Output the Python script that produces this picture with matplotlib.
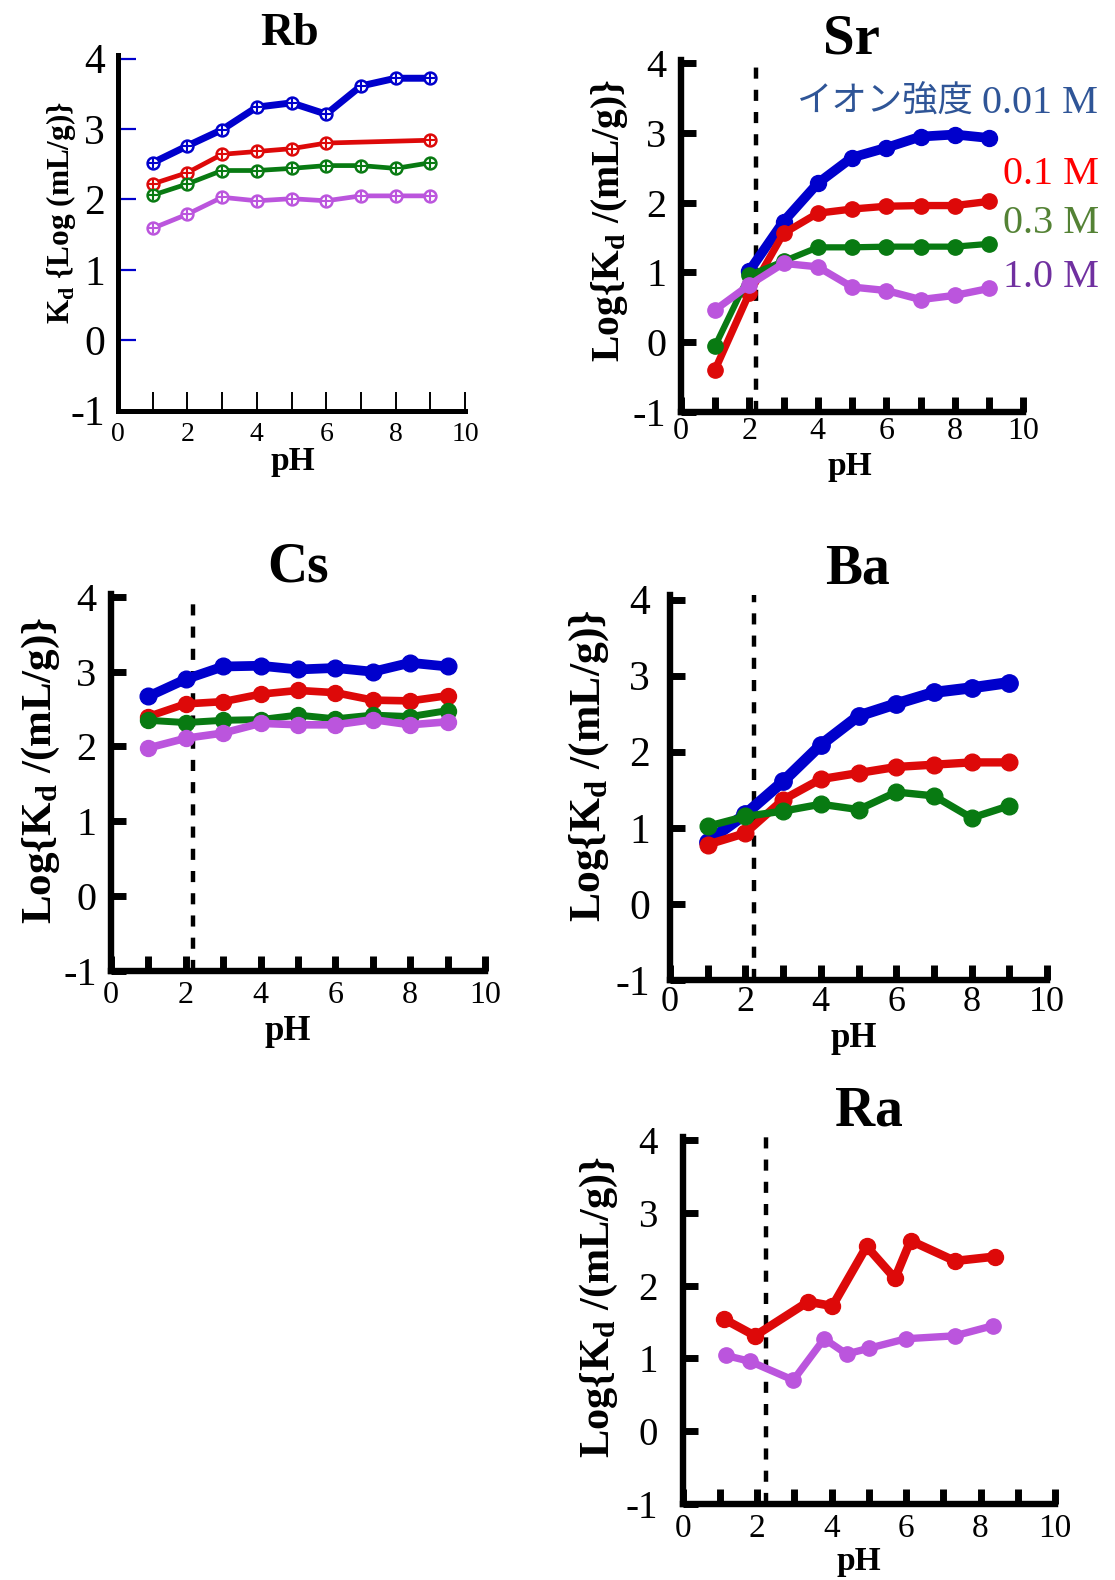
import matplotlib
matplotlib.use("Agg")
import matplotlib.pyplot as plt

plt.rcParams['font.family'] = ['Liberation Serif', 'Noto Sans CJK JP', 'DejaVu Sans']
plt.rcParams['mathtext.fontset'] = 'custom'
plt.rcParams['mathtext.rm'] = 'Liberation Serif'
plt.rcParams['mathtext.bf'] = 'Liberation Serif:bold'

# ---------------- data ----------------
ph = [1, 2, 3, 4, 5, 6, 7, 8, 9]

rb_001 = [2.52, 2.76, 2.99, 3.31, 3.37, 3.21, 3.61, 3.72, 3.72]
rb_01_ph = [1, 2, 3, 4, 5, 6, 9]
rb_01 = [2.22, 2.38, 2.64, 2.68, 2.72, 2.80, 2.84]
rb_03 = [2.06, 2.22, 2.41, 2.41, 2.44, 2.48, 2.48, 2.44, 2.52]
rb_10 = [1.59, 1.79, 2.03, 1.98, 2.01, 1.98, 2.05, 2.05, 2.05]

sr_001_ph = [2, 3, 4, 5, 6, 7, 8, 9]
sr_001 = [1.02, 1.73, 2.28, 2.65, 2.79, 2.95, 2.98, 2.93]
sr_01 = [-0.40, 0.70, 1.56, 1.85, 1.91, 1.95, 1.96, 1.96, 2.02]
sr_03 = [-0.06, 0.96, 1.16, 1.36, 1.36, 1.37, 1.37, 1.37, 1.41]
sr_10 = [0.46, 0.82, 1.13, 1.08, 0.79, 0.74, 0.61, 0.67, 0.77]

cs_001 = [2.67, 2.90, 3.07, 3.08, 3.03, 3.05, 3.00, 3.12, 3.07]
cs_01 = [2.40, 2.57, 2.60, 2.70, 2.75, 2.72, 2.62, 2.61, 2.68]
cs_03 = [2.35, 2.32, 2.35, 2.36, 2.42, 2.37, 2.42, 2.40, 2.48]
cs_10 = [1.98, 2.11, 2.18, 2.31, 2.29, 2.29, 2.36, 2.29, 2.33]

ba_001 = [0.82, 1.18, 1.61, 2.09, 2.47, 2.63, 2.78, 2.84, 2.91]
ba_01 = [0.78, 0.93, 1.37, 1.64, 1.72, 1.80, 1.83, 1.86, 1.86]
ba_03 = [1.02, 1.15, 1.22, 1.31, 1.24, 1.47, 1.42, 1.13, 1.29]

ra_01_ph = [1.11, 1.94, 3.37, 4.02, 4.94, 5.70, 6.12, 7.31, 8.38]
ra_01 = [1.54, 1.31, 1.78, 1.72, 2.54, 2.10, 2.62, 2.34, 2.40]
ra_10_ph = [1.15, 1.80, 2.97, 3.80, 4.40, 5.01, 6.00, 7.31, 8.34]
ra_10 = [1.04, 0.96, 0.70, 1.27, 1.06, 1.14, 1.27, 1.31, 1.45]

elements = ['Rb', 'Sr', 'Cs', 'Ba', 'Ra']
boundary_ph = {'Sr': 2.20, 'Cs': 2.20, 'Ba': 2.24, 'Ra': 2.24}

x_ticks = [0, 1, 2, 3, 4, 5, 6, 7, 8, 9, 10]
x_ticklabels = ['0', '', '2', '', '4', '', '6', '', '8', '', '10']
y_ticks = [-1, 0, 1, 2, 3, 4]
y_ticklabels = ['-1', '0', '1', '2', '3', '4']

legend_title = 'イオン強度'
legend_labels = ['0.01 M', '0.1 M', '0.3 M', '1.0 M']

# ---------------- styles ----------------
W, H = 1115, 1580
C_BLUE = '#0000cc'
C_RED = '#dd0909'
C_GREEN = '#087a12'
C_PURPLE = '#bb55dd'
LEG_COLORS = ['#2f5597', '#ff0000', '#548235', '#7030a0']

fig = plt.figure(figsize=(W / 100, H / 100), dpi=100)


def px_axes(l, r, b, t):
    return fig.add_axes([l / W, 1 - b / H, (r - l) / W, (b - t) / H])


def ftext(x, y, s, **kw):
    return fig.text(x / W, 1 - y / H, s, **kw)


panels = {
    'Rb': dict(box=(118, 465, 410.7, 55), ytop=4.05, ysize=30, xsize=20, ypad=9.5, xpad=8.2,
               title=(290, 45, 33), ph=(292.5, 470, 24),
               ylab=(61, 212.5, 22.5), ylabel='K$_{\\mathbf{d}}$ {Log (mL/g)}'),
    'Sr': dict(box=(680.7, 1023.4, 411.7, 60), ytop=4.05, ysize=29, xsize=23, ypad=10.3, xpad=3.5,
               title=(851.7, 53.3, 41), ph=(850, 475, 24),
               ylab=(609, 220, 28.5), ylabel='Log{K$_{\\mathbf{d}}$ /(mL/g)}'),
    'Cs': dict(box=(110.9, 485, 970.7, 594), ytop=4.04, ysize=29, xsize=23, ypad=10.3, xpad=7.6,
               title=(298, 581.7, 40), ph=(288, 1040, 25),
               ylab=(41, 770, 31), ylabel='Log{K$_{\\mathbf{d}}$ /(mL/g)}'),
    'Ba': dict(box=(670, 1047, 980, 595), ytop=4.06, ysize=30, xsize=26, ypad=14.5, xpad=4.2,
               title=(857, 583.3, 40), ph=(854, 1047, 25),
               ylab=(589, 766, 31.5), ylabel='Log{K$_{\\mathbf{d}}$ /(mL/g)}'),
    'Ra': dict(box=(682.8, 1055, 1503.7, 1136.7), ytop=4.05, ysize=28, xsize=24, ypad=18, xpad=6.7,
               title=(869, 1125, 40), ph=(859, 1570, 24),
               ylab=(599, 1307.5, 30.4), ylabel='Log{K$_{\\mathbf{d}}$ /(mL/g)}'),
}

axes = {}
for el in elements:
    p = panels[el]
    l, r, b, t = p['box']
    ax = px_axes(l, r, b, t)
    axes[el] = ax
    ax.set_xlim(0, 10)
    ax.set_ylim(-1, p['ytop'])
    for s in ('top', 'right'):
        ax.spines[s].set_visible(False)
    lw_sp = 3.6 if el == 'Rb' else 4.6
    for s in ('left', 'bottom'):
        ax.spines[s].set_linewidth(lw_sp)
        ax.spines[s].set_capstyle('projecting')
    ax.set_xticks(x_ticks)
    ax.set_xticklabels(x_ticklabels)
    ax.set_yticks(y_ticks)
    ax.set_yticklabels(y_ticklabels)
    if el == 'Rb':
        ax.tick_params(axis='y', direction='in', length=13, width=1.6, color=C_BLUE,
                       labelsize=p['ysize'], pad=p['ypad'])
        ax.tick_params(axis='x', direction='in', length=14, width=1.4, color='black',
                       labelsize=p['xsize'], pad=p['xpad'])
    else:
        ax.tick_params(axis='y', direction='in', length=10.5, width=5.0, color='black',
                       labelsize=p['ysize'], pad=p['ypad'])
        ax.tick_params(axis='x', direction='in', length=10.5, width=5.0, color='black',
                       labelsize=p['xsize'], pad=p['xpad'])
    for lbl in ax.get_xticklabels() + ax.get_yticklabels():
        lbl.set_fontfamily('Liberation Serif')
    ax.patch.set_alpha(0)
    tx, ty, ts = p['title']
    ftext(tx, ty, el, ha='center', va='baseline', fontsize=ts, fontweight='bold')
    hx, hy, hs = p['ph']
    ftext(hx, hy, 'pH', ha='center', va='baseline', fontsize=hs, fontweight='bold')
    lx, ly, ls = p['ylab']
    ftext(lx, ly, p['ylabel'], rotation=90, ha='center', va='center', fontsize=ls,
          fontweight='bold')
    if el in boundary_ph:
        ax.axvline(boundary_ph[el], color='black', lw=3.2, linestyle=(0, (2.5, 2.5)), zorder=1)

# ----- Rb: open circle markers with cross -----
ax = axes['Rb']
rb_series = [(ph, rb_001, C_BLUE, 5.0), (rb_01_ph, rb_01, C_RED, 3.4),
             (ph, rb_03, C_GREEN, 3.4), (ph, rb_10, C_PURPLE, 3.4)]
for xs, ys, c, lw in rb_series:
    ax.plot(xs, ys, color=c, lw=lw, marker='o', ms=8.5, mfc='white', mec=c, mew=1.8,
            clip_on=False, zorder=3)
    ax.plot(xs, ys, ls='none', color=c, marker='+', ms=7, mew=1.5, clip_on=False, zorder=4)

# ----- filled-marker panels -----
filled = {
    'Sr': [(sr_001_ph, sr_001, C_BLUE, 7.0, 11.5), (ph, sr_01, C_RED, 5.3, 11),
           (ph, sr_03, C_GREEN, 4.5, 11), (ph, sr_10, C_PURPLE, 5.3, 11)],
    'Cs': [(ph, cs_001, C_BLUE, 7.0, 12), (ph, cs_01, C_RED, 5.5, 11.5),
           (ph, cs_03, C_GREEN, 5.0, 11.5), (ph, cs_10, C_PURPLE, 5.5, 11.5)],
    'Ba': [(ph, ba_001, C_BLUE, 8.0, 12.5), (ph, ba_01, C_RED, 6.0, 12),
           (ph, ba_03, C_GREEN, 5.3, 12)],
    'Ra': [(ra_01_ph, ra_01, C_RED, 6.2, 11.5), (ra_10_ph, ra_10, C_PURPLE, 5.3, 11)],
}
for el, series in filled.items():
    ax = axes[el]
    for xs, ys, c, lw, ms in series:
        ax.plot(xs, ys, color=c, lw=lw, marker='o', ms=ms, mfc=c, mec=c,
                clip_on=False, zorder=3)

# ----- legend text (Sr panel) -----
ftext(797, 112, legend_title, ha='left', va='baseline', fontsize=25.5,
      color=LEG_COLORS[0], fontfamily='Noto Sans CJK JP')
leg_pos = [(982, 113), (1003, 184), (1003, 232.7), (1003, 286.7)]
for (x, y), s, c in zip(leg_pos, legend_labels, LEG_COLORS):
    ftext(x, y, s, ha='left', va='baseline', fontsize=29, color=c)

fig.savefig('out.png', dpi=100)
